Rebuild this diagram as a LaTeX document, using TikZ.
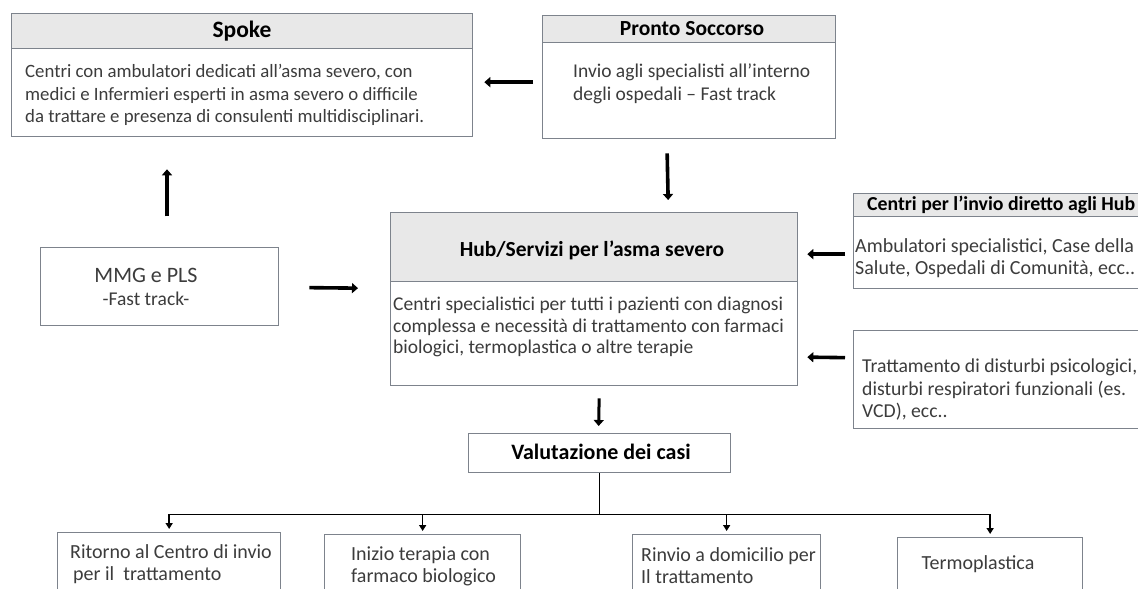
\documentclass[tikz,border=0pt]{standalone}
\usepackage{fontspec}
\setmainfont{Carlito}
\usetikzlibrary{arrows.meta,calc}
\definecolor{bordc}{HTML}{7D838C}
\definecolor{hdrc}{HTML}{E8E8E8}
\definecolor{txtc}{HTML}{3C3C3C}
\tikzset{
  boxr/.style={draw=bordc, line width=1.3pt, fill=white, anchor=north west, inner sep=0pt},
  hdrr/.style={draw=bordc, line width=1.3pt, fill=hdrc, anchor=north west, inner sep=0pt},
  body/.style={text=txtc, align=left, inner sep=0pt, font=\fontsize{19.5}{22}\selectfont},
  head/.style={text=black, inner sep=0pt, font=\bfseries\fontsize{21.5}{24}\selectfont},
  bigarr/.style={line width=3.6pt, -{Triangle[length=6pt,width=10pt]}},
  thinarr/.style={line width=1.6pt, -{Triangle[length=6pt,width=7pt]}},
  thinline/.style={line width=1.6pt}
}
\begin{document}
\begin{tikzpicture}[x=1pt,y=-1pt]
\path[use as bounding box, fill=white] (0,0) rectangle (1138,589);
% Spoke
\node[boxr, minimum width=461pt, minimum height=123pt] (spoke) at (11,13) {};
\node[hdrr, minimum width=461pt, minimum height=35pt] (spokeh) at (11,13) {};
\node[head, font=\bfseries\fontsize{23.5}{26}\selectfont] (spoket) at (242,31) {Spoke};
\node[body, anchor=west, font=\fontsize{18.8}{22.5}\selectfont] (spokeb) at (25,95) {Centri con ambulatori dedicati all’asma severo, con\\medici e Infermieri esperti in asma severo o difficile\\da trattare e presenza di consulenti multidisciplinari.};
% Pronto Soccorso
\node[boxr, minimum width=293pt, minimum height=123pt] (ps) at (542,15) {};
\node[hdrr, minimum width=293pt, minimum height=27pt] (psh) at (542,15) {};
\node[head] (pst) at (692,29) {Pronto Soccorso};
\node[body, anchor=west, font=\fontsize{19.5}{22.5}\selectfont] (psb) at (573,84) {Invio agli specialisti all’interno\\degli ospedali -- Fast track};
% Hub
\node[boxr, minimum width=407pt, minimum height=173pt] (hub) at (390,212) {};
\node[hdrr, minimum width=407pt, minimum height=69pt] (hubh) at (390,212) {};
\node[head] (hubt) at (592,250) {Hub/Servizi per l’asma severo};
\node[body, anchor=west, font=\fontsize{19.5}{21.5}\selectfont] (hubb) at (393,327) {Centri specialistici per tutti i pazienti con diagnosi\\complessa e necessità di trattamento con farmaci\\biologici, termoplastica o altre terapie};
% MMG
\node[boxr, minimum width=238pt, minimum height=78pt] (mmg) at (40,247) {};
\node[inner sep=0pt, text=txtc, font=\fontsize{22}{24}\selectfont] (mmgt) at (146,275) {MMG e PLS};
\node[inner sep=0pt, text=txtc, font=\fontsize{19.5}{22}\selectfont] (mmgs) at (146,299) {-Fast track-};
% Centri per l'invio
\node[boxr, minimum width=300pt, minimum height=95pt] (centri) at (853,193) {};
\node[hdrr, minimum width=300pt, minimum height=23pt] (centrih) at (853,193) {};
\node[head, anchor=west, font=\bfseries\fontsize{19.8}{22}\selectfont] (centrit) at (867,205) {Centri per l’invio diretto agli Hub};
\node[body, anchor=west, font=\fontsize{20}{22}\selectfont] (centrib) at (855,258) {Ambulatori specialistici, Case della\\Salute, Ospedali di Comunità, ecc..};
% Trattamento
\node[boxr, minimum width=300pt, minimum height=98pt] (tratt) at (853,330) {};
\node[body, anchor=west, font=\fontsize{19.7}{22.5}\selectfont] (trattb) at (862,390) {Trattamento di disturbi psicologici,\\disturbi respiratori funzionali (es.\\VCD), ecc..};
% Valutazione
\node[boxr, minimum width=262pt, minimum height=39pt] (val) at (468,433) {};
\node[head, font=\bfseries\fontsize{22}{24}\selectfont] (valt) at (601,452) {Valutazione dei casi};
% bottom boxes
\node[boxr, minimum width=223pt, minimum height=70pt] (b1) at (57,532) {};
\node[body, anchor=west, font=\fontsize{20}{22}\selectfont] (b1t) at (70,564) {Ritorno al Centro di invio\\\hspace*{3pt}per il\ \ trattamento};
\node[boxr, minimum width=196pt, minimum height=70pt] (b2) at (324,534) {};
\node[body, anchor=west, font=\fontsize{20}{22}\selectfont] (b2t) at (351,566) {Inizio terapia con\\farmaco biologico};
\node[boxr, minimum width=188pt, minimum height=70pt] (b3) at (632,534) {};
\node[body, anchor=west, font=\fontsize{20}{22}\selectfont] (b3t) at (641,566) {Rinvio a domicilio per\\Il trattamento};
\node[boxr, minimum width=185pt, minimum height=70pt] (b4) at (897,537) {};
\node[body, font=\fontsize{20}{22}\selectfont] (b4t) at (978,564) {Termoplastica};
% big arrows
\draw[bigarr] ($(ps.west)+(-9,5)$) -- ($(spoke.east)+(11,7)$);
\draw[bigarr] ($(ps.south)+(-22,14)$) -- ($(hub.north)+(74,-12)$);
\draw[bigarr] ($(mmg.south west)+(127,-110)$) -- ($(spoke.south west)+(156,32)$);
\draw[bigarr] ($(mmg.east)+(30,1)$) -- ($(hub.west)+(-32,-11)$);
\draw[bigarr] ($(centri.west)+(-8,13)$) -- ($(hub.east)+(9,-45)$);
\draw[bigarr] ($(tratt.west)+(-8,-22)$) -- ($(hub.east)+(9,58)$);
\draw[bigarr, line width=3pt] ($(hub.south)+(5,12)$) -- ($(val.north)+(-1,-7)$);
% tree
\coordinate (split) at ($(val.south)+(0,41)$);
\draw[thinline] (val.south) -- (split);
\draw[thinarr] (split) -| ($(b1.north)+(0,-3)$);
\draw[thinarr] (split) -| ($(b4.north)+(0,-3)$);
\draw[thinarr] (b2.north |- split) -- ($(b2.north)+(0,-3)$);
\draw[thinarr] (b3.north |- split) -- ($(b3.north)+(0,-3)$);
\end{tikzpicture}
\end{document}
